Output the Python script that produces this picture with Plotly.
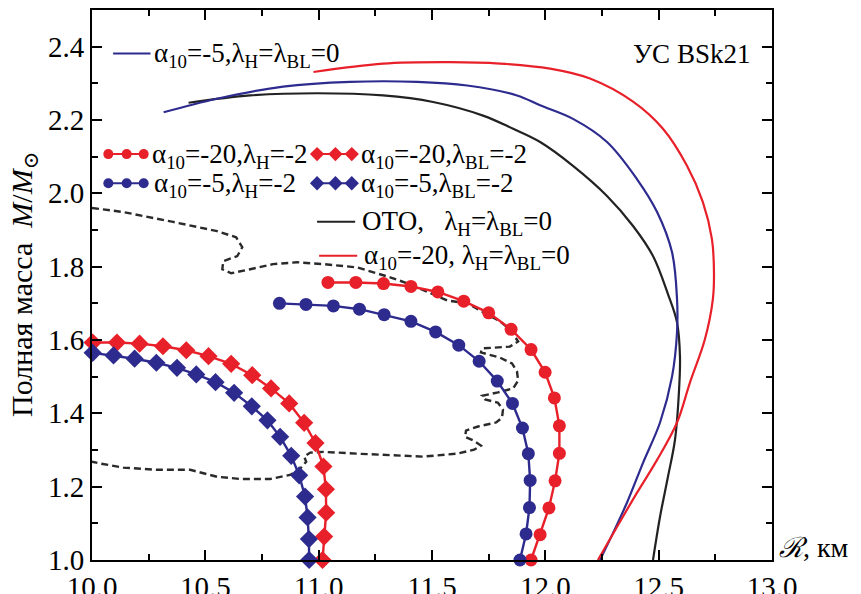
import plotly.graph_objects as go

# ---------------- data ----------------
# GR (ОТО), λH=λBL=0
R_gr = [10.426, 10.698, 10.992, 11.284, 11.505, 11.725, 11.858, 11.977, 12.122, 12.272,
        12.387, 12.475, 12.541, 12.581, 12.594, 12.590, 12.572, 12.541, 12.506, 12.475]
M_gr = [2.247, 2.267, 2.273, 2.267, 2.249, 2.212, 2.176, 2.140, 2.075, 1.993,
        1.911, 1.829, 1.725, 1.648, 1.555, 1.465, 1.328, 1.227, 1.118, 1.000]

# α10=-5, λH=λBL=0
R_a5 = [10.316, 10.551, 10.843, 11.139, 11.434, 11.655, 11.875, 11.977, 12.122, 12.272, 12.404,
        12.493, 12.559, 12.581, 12.581, 12.559, 12.506, 12.431, 12.360, 12.299, 12.241]
M_a5 = [2.221, 2.258, 2.291, 2.304, 2.304, 2.294, 2.267, 2.240, 2.203, 2.140, 2.039,
        1.949, 1.839, 1.711, 1.621, 1.500, 1.375, 1.265, 1.156, 1.074, 1.000]

# α10=-20, λH=λBL=0
R_a20 = [10.977, 11.284, 11.580, 11.800, 12.021, 12.197, 12.387, 12.519, 12.625, 12.695,
         12.735, 12.744, 12.739, 12.704, 12.638, 12.581, 12.493, 12.404, 12.316, 12.232]
M_a20 = [2.331, 2.354, 2.358, 2.354, 2.340, 2.313, 2.250, 2.176, 2.075, 1.976,
         1.875, 1.785, 1.711, 1.602, 1.484, 1.375, 1.273, 1.183, 1.090, 1.000]

# α10=-20, λH=-2 (circles)
R_a20H = [11.041, 11.164, 11.286, 11.407, 11.526, 11.640, 11.750, 11.849, 11.937, 11.999,
          12.040, 12.062, 12.062, 12.043, 12.016, 11.977, 11.937]
M_a20H = [1.757, 1.757, 1.754, 1.746, 1.731, 1.706, 1.674, 1.629, 1.574, 1.512,
          1.442, 1.366, 1.291, 1.216, 1.142, 1.069, 1.000]

# α10=-5, λH=-2 (circles)
R_a5H = [10.827, 10.944, 11.065, 11.180, 11.289, 11.407, 11.516, 11.618, 11.708, 11.788,
         11.855, 11.899, 11.925, 11.933, 11.930, 11.915, 11.888]
M_a5H = [1.700, 1.697, 1.693, 1.684, 1.669, 1.651, 1.622, 1.586, 1.542, 1.488,
         1.427, 1.360, 1.290, 1.217, 1.143, 1.071, 1.000]

# α10=-20, λBL=-2 (diamonds)
R_a20BL = [10.003, 10.110, 10.210, 10.313, 10.416, 10.514, 10.614, 10.707, 10.790, 10.870,
           10.936, 10.986, 11.021, 11.032, 11.033, 11.024, 11.017]
M_a20BL = [1.593, 1.593, 1.590, 1.583, 1.572, 1.556, 1.535, 1.504, 1.468, 1.427,
           1.374, 1.319, 1.255, 1.193, 1.129, 1.064, 1.000]

# α10=-5, λBL=-2 (diamonds)
R_a5BL = [10.003, 10.095, 10.188, 10.284, 10.375, 10.460, 10.545, 10.627, 10.705, 10.774,
          10.830, 10.879, 10.914, 10.940, 10.951, 10.957, 10.958]
M_a5BL = [1.565, 1.558, 1.549, 1.538, 1.524, 1.506, 1.485, 1.456, 1.419, 1.381,
          1.336, 1.284, 1.231, 1.173, 1.116, 1.057, 1.000]

# dashed boundary curve
R_dash = [10.000, 10.138, 10.358, 10.552, 10.636, 10.663, 10.641, 10.579, 10.575, 10.614,
          10.698, 10.799, 10.905, 11.020, 11.170, 11.315, 11.403, 11.483, 11.567, 11.655,
          11.730, 11.800, 11.844, 11.880, 11.844, 11.721, 11.716, 11.800, 11.853, 11.875,
          11.880, 11.858, 11.791, 11.721, 11.734, 11.791, 11.813, 11.809, 11.783, 11.703,
          11.650, 11.646, 11.686, 11.716, 11.686, 11.611, 11.461, 11.315, 11.170, 11.020,
          10.963, 10.936, 10.945, 10.918, 10.874, 10.786, 10.654, 10.552, 10.433, 10.288,
          10.138, 10.037, 10.000]
M_dash = [1.960, 1.949, 1.922, 1.897, 1.880, 1.853, 1.829, 1.815, 1.793, 1.782,
          1.793, 1.807, 1.812, 1.807, 1.798, 1.771, 1.752, 1.730, 1.708, 1.700,
          1.675, 1.651, 1.629, 1.596, 1.582, 1.577, 1.566, 1.552, 1.536, 1.514,
          1.489, 1.468, 1.457, 1.448, 1.438, 1.429, 1.410, 1.388, 1.375, 1.364,
          1.353, 1.336, 1.325, 1.312, 1.301, 1.290, 1.282, 1.287, 1.290, 1.295,
          1.293, 1.282, 1.268, 1.249, 1.232, 1.221, 1.221, 1.227, 1.246, 1.246,
          1.252, 1.263, 1.268]

x_ticks = [10.0, 10.5, 11.0, 11.5, 12.0, 12.5, 13.0]
y_ticks = [1.0, 1.2, 1.4, 1.6, 1.8, 2.0, 2.2, 2.4]

# ---------------- styles ----------------
RED = "#e8202a"
BLUE = "#2e2b8f"
BLACK = "#222222"
FONT = "Liberation Serif, DejaVu Serif, serif"

fig = go.Figure()

fig.add_trace(go.Scatter(x=R_dash, y=M_dash, mode="lines",
                         line=dict(color="#2a2a2a", width=2.4, dash="7px,4px"),
                         showlegend=False))
fig.add_trace(go.Scatter(x=R_gr, y=M_gr, mode="lines", line=dict(color=BLACK, width=2.2, shape="spline"),
                         showlegend=False))
fig.add_trace(go.Scatter(x=R_a5, y=M_a5, mode="lines", line=dict(color=BLUE, width=2.2, shape="spline"),
                         showlegend=False))
fig.add_trace(go.Scatter(x=R_a20, y=M_a20, mode="lines", line=dict(color=RED, width=2.2, shape="spline"),
                         showlegend=False))
for xs, ys, col, sym, size in [
    (R_a20H, M_a20H, RED, "circle", 13),
    (R_a5H, M_a5H, BLUE, "circle", 13),
    (R_a20BL, M_a20BL, RED, "diamond", 14),
    (R_a5BL, M_a5BL, BLUE, "diamond", 14),
]:
    fig.add_trace(go.Scatter(x=xs, y=ys, mode="lines+markers",
                             line=dict(color=col, width=2.4),
                             marker=dict(color=col, symbol=sym, size=size),
                             showlegend=False, cliponaxis=False))

# ---------------- legend keys (overlay axes in plot-area fractions) ----------------
leg_keys = [
    ([0.031, 0.086], [0.921, 0.921], BLUE, "lines", None),
    ([0.024, 0.051, 0.076], [0.738, 0.738, 0.738], RED, "lines+markers", "circle"),
    ([0.331, 0.358, 0.382], [0.738, 0.738, 0.738], RED, "lines+markers", "diamond"),
    ([0.024, 0.051, 0.076], [0.685, 0.685, 0.685], BLUE, "lines+markers", "circle"),
    ([0.331, 0.358, 0.382], [0.685, 0.685, 0.685], BLUE, "lines+markers", "diamond"),
    ([0.331, 0.387], [0.615, 0.615], BLACK, "lines", None),
    ([0.334, 0.390], [0.553, 0.553], RED, "lines", None),
]
for xs, ys, col, mode, sym in leg_keys:
    kw = dict(x=xs, y=ys, mode=mode, line=dict(color=col, width=2),
              xaxis="x2", yaxis="y2", showlegend=False, hoverinfo="skip", cliponaxis=False)
    if sym:
        kw["marker"] = dict(color=col, symbol=sym, size=10 if sym == "circle" else 11)
    fig.add_trace(go.Scatter(**kw))

leg_texts = [
    (0.088, 0.918, "α<sub>10</sub>=-5,λ<sub>H</sub>=λ<sub>BL</sub>=0"),
    (0.086, 0.735, "α<sub>10</sub>=-20,λ<sub>H</sub>=-2"),
    (0.392, 0.735, "α<sub>10</sub>=-20,λ<sub>BL</sub>=-2"),
    (0.088, 0.682, "α<sub>10</sub>=-5,λ<sub>H</sub>=-2"),
    (0.392, 0.682, "α<sub>10</sub>=-5,λ<sub>BL</sub>=-2"),
    (0.394, 0.612, "ОТО,   λ<sub>H</sub>=λ<sub>BL</sub>=0"),
    (0.397, 0.550, "α<sub>10</sub>=-20, λ<sub>H</sub>=λ<sub>BL</sub>=0"),
]
annotations = []
for x, y, t in leg_texts:
    annotations.append(dict(x=x, y=y, xref="paper", yref="paper", text=t, showarrow=False,
                            xanchor="left", yanchor="middle",
                            font=dict(family=FONT, size=27, color="black")))

annotations.append(dict(x=0.97, y=0.92, xref="paper", yref="paper", text="УС BSk21",
                        showarrow=False, xanchor="right", yanchor="middle",
                        font=dict(family=FONT, size=27, color="black")))
annotations.append(dict(x=1.008, y=0.022, xref="paper", yref="paper",
                        text="<i>ℛ</i>, км", showarrow=False, xanchor="left", yanchor="middle",
                        font=dict(family=FONT, size=28, color="black")))
annotations.append(dict(x=-0.1, y=0.5, xref="paper", yref="paper",
                        text="Полная масса  <i>M</i>/<i>M</i><sub>⊙</sub>", textangle=-90,
                        showarrow=False, xanchor="center", yanchor="middle",
                        font=dict(family=FONT, size=30, color="black")))

axis_common = dict(showline=True, linewidth=2, linecolor="black", mirror="allticks",
                   ticks="inside", ticklen=10, tickwidth=1.5, tickcolor="black",
                   showgrid=False, zeroline=False, automargin=False,
                   tickfont=dict(family=FONT, size=29, color="black"))

# page body has an 8px default margin, so the figure is offset by 8px
fig.update_layout(
    template="none",
    width=861, height=594,
    margin=dict(l=84, r=97, t=2, b=42),
    paper_bgcolor="white", plot_bgcolor="white",
    xaxis=dict(range=[10, 13], tickvals=x_ticks, ticktext=[f"{v:.1f}" for v in x_ticks],
               minor=dict(dtick=0.25, ticks="inside", ticklen=6, tickcolor="black", tickwidth=1.5),
               **axis_common),
    yaxis=dict(range=[1.0, 2.5], tickvals=y_ticks, ticktext=[f"{v:.1f}" for v in y_ticks],
               minor=dict(dtick=0.1, ticks="inside", ticklen=6, tickcolor="black", tickwidth=1.5),
               **axis_common),
    xaxis2=dict(overlaying="x", range=[0, 1], visible=False, fixedrange=True),
    yaxis2=dict(overlaying="y", range=[0, 1], visible=False, fixedrange=True),
    annotations=annotations,
    showlegend=False,
)

fig.write_html("out.html")
